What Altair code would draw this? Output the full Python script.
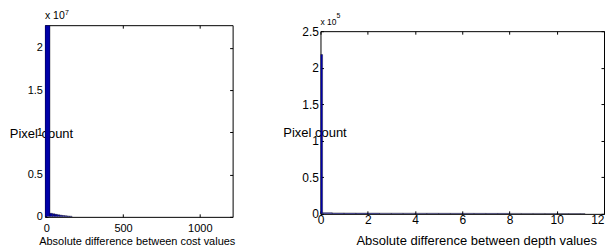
import altair as alt
import pandas as pd

FONT = "Liberation Sans"

# ---- Left panel: absolute difference between cost values ----
cost_lo = [-8, 24, 40, 56, 72, 88, 104, 120, 136, 152]
cost_hi = [24, 40, 56, 72, 88, 104, 120, 136, 152, 168]
cost_counts = [22700000, 420000, 360000, 300000, 250000, 200000, 160000, 130000, 100000, 80000]
cost_xticks = [0, 500, 1000]
cost_yticks = [0, 5000000, 10000000, 15000000, 20000000]

# ---- Right panel: absolute difference between depth values ----
depth_lo = [0.0, 0.09, 0.5, 1.0, 1.5, 2.0, 2.5, 3.0, 3.5, 4.0, 4.5, 5.0, 5.5, 6.0,
            6.5, 7.0, 7.5, 8.0, 8.5, 9.0, 9.5, 10.0, 10.5, 11.0]
depth_hi = [0.09, 0.5, 1.0, 1.5, 2.0, 2.5, 3.0, 3.5, 4.0, 4.5, 5.0, 5.5, 6.0, 6.5,
            7.0, 7.5, 8.0, 8.5, 9.0, 9.5, 10.0, 10.5, 11.0, 11.2]
depth_counts = [218000, 1600, 1300, 1200, 1100, 1100, 1000, 1000, 950, 900, 900, 850,
                800, 800, 750, 700, 700, 650, 600, 600, 550, 500, 450, 400]
depth_xticks = [0, 2, 4, 6, 8, 10, 12]
depth_yticks = [0, 50000, 100000, 150000, 200000, 250000]

multipliers = [("x 10", "7"), ("x 10", "5")]


def panel(lo, hi, counts, xdom, ydom, xticks, yticks, scale, mult, w, h, xtitle,
          fs_lab, fs_xt, lab_pad_x, lab_pad_y, xtitle_x, xtitle_y, ytitle_x, ytitle_y,
          base_fs, base_y, sup_fs, sup_dx, sup_y):
    df = pd.DataFrame({"lo": lo, "hi": hi, "count": counts})
    xs = alt.Scale(domain=xdom, nice=False, zero=False)
    ys = alt.Scale(domain=ydom, nice=False, zero=False)
    last = xticks[-1]
    bars = alt.Chart(df).mark_rect(color="#0000a8", stroke="black", strokeWidth=0.35,
                                   clip=True).encode(
        x=alt.X("lo:Q", scale=xs, axis=alt.Axis(
            orient="bottom", values=xticks, tickSize=3, offset=-3, domain=False,
            grid=False, labelFlush=False, labelOverlap=False, labelPadding=lab_pad_x,
            labelFontSize=fs_lab, format="d", labelFont=FONT, labelColor="black",
            labelAlign={"condition": {"test": f"datum.value >= {last} && {last} == 12",
                                      "value": "right"}, "value": "center"},
            tickColor="black",
            title=xtitle, titleFontSize=fs_xt, titleX=xtitle_x, titleY=xtitle_y,
            titleFont=FONT, titleFontWeight="normal", titleColor="black",
            titleAlign="center", titleBaseline="alphabetic", titleAnchor="middle")),
        x2="hi:Q",
        y=alt.Y("count:Q", scale=ys, axis=alt.Axis(
            orient="left", values=yticks, tickSize=3, offset=-3, domain=False,
            grid=False, labelFlush=False, labelOverlap=False, labelPadding=lab_pad_y,
            labelFontSize=fs_lab, labelExpr=f"datum.value / {scale}",
            labelFont=FONT, labelColor="black", tickColor="black",
            title="Pixel count", titleFontSize=13, titleAngle=0,
            titleFont=FONT, titleFontWeight="normal", titleColor="black",
            titleX=ytitle_x, titleY=ytitle_y, titleAlign="center",
            titleBaseline="alphabetic")),
        y2=alt.datum(0),
    )
    ghost = alt.Chart(df).mark_rect(opacity=0).encode(
        x=alt.X("lo:Q", scale=xs, axis=alt.Axis(
            orient="top", values=xticks, tickSize=3, offset=-3, domain=False,
            grid=False, labels=False, tickColor="black", title=None)),
        x2="hi:Q",
        y=alt.Y("count:Q", scale=ys, axis=alt.Axis(
            orient="right", values=yticks, tickSize=3, offset=-3, domain=False,
            grid=False, labels=False, tickColor="black", title=None)),
        y2=alt.datum(0),
    )
    tdf = pd.DataFrame({"base": [mult[0]], "exp": [mult[1]]})
    t1 = alt.Chart(tdf).mark_text(align="left", baseline="alphabetic", fontSize=base_fs,
                                  font=FONT, color="black").encode(
        x=alt.value(0), y=alt.value(base_y), text="base:N")
    t2 = alt.Chart(tdf).mark_text(align="left", baseline="alphabetic", fontSize=sup_fs,
                                  font=FONT, color="black").encode(
        x=alt.value(sup_dx), y=alt.value(sup_y), text="exp:N")
    return alt.layer(bars, ghost, t1, t2).resolve_axis(
        x="independent", y="independent").properties(width=w, height=h)


left = panel(cost_lo, cost_hi, cost_counts, [-9, 1214], [0, 22700000],
             cost_xticks, cost_yticks, 10000000, multipliers[0], 188, 192,
             "Absolute difference between cost values", 11, 11,
             6, 2.5, 92, 31, -7, 112.5,
             10.5, -5.7, 7, 20, -10)

right = panel(depth_lo, depth_hi, depth_counts, [0, 12], [0, 250000],
              depth_xticks, depth_yticks, 100000, multipliers[1], 284, 183,
              "Absolute difference between depth values", 12, 13,
              1, 2, 156, 34, -9, 106,
              8.5, -6, 7, 16, -12.7)

spacer_df = pd.DataFrame({"v": [0]})
spacer = alt.Chart(spacer_df).mark_point(opacity=0).encode(
    x=alt.X("v:Q", axis=None), y=alt.Y("v:Q", axis=None)
).properties(width=284, height=1, view=alt.ViewBackground(stroke=None))

right_col = alt.vconcat(spacer, right, spacing=5, bounds="flush")

chart = alt.hconcat(left, right_col, spacing=88, bounds="flush").properties(
    padding={"left": 0, "top": 0, "right": 0, "bottom": 0},
    background="white"
).configure_view(stroke="black", strokeWidth=1)

chart.save("out.html", embed_options={"renderer": "svg", "actions": False})
